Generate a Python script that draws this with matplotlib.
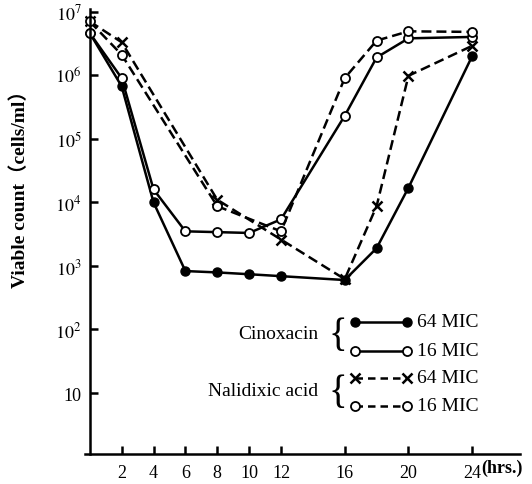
import numpy as np
import matplotlib.pyplot as plt
from matplotlib.ticker import FixedLocator, NullLocator

plt.rcParams['font.family'] = ['Liberation Serif', 'DejaVu Serif']
plt.rcParams['mathtext.fontset'] = 'stix'

# time points (hrs)
hours_cin = [0, 2, 4, 6, 8, 10, 12, 16, 18, 20, 24]
hours_nal = [0, 2, 8, 12, 16, 18, 20, 24]

# viable counts (cells/ml)
cin64 = [4.6e6, 6.7e5, 1.0e4, 8.3e2, 7.9e2, 7.4e2, 6.9e2, 6.0e2, 1.9e3, 1.7e4, 2.0e6]
cin16 = [4.6e6, 9.0e5, 1.6e4, 3.5e3, 3.4e3, 3.3e3, 5.4e3, 2.3e5, 1.9e6, 3.8e6, 4.0e6]
nal64 = [7.0e6, 3.3e6, 1.1e4, 2.6e3, 6.2e2, 8.7e3, 9.8e5, 2.9e6]
nal16 = [7.0e6, 2.1e6, 8.7e3, 3.5e3, 9.0e5, 3.5e6, 4.9e6, 4.8e6]

xticks = [2, 4, 6, 8, 10, 12, 16, 20, 24]
yticks = [10, 1e2, 1e3, 1e4, 1e5, 1e6, 1e7]
ytick_labels = ['10', '$10^2$', '$10^3$', '$10^4$', '$10^5$', '$10^6$', '$10^7$']

W, H = 532, 485
fig = plt.figure(figsize=(W / 100, H / 100), dpi=100)
ax = fig.add_axes([85 / W, 1 - 455 / H, 435 / W, 445 / H])

lw = 1.8
ms = 6.5
dash = (4, 2)

ax.plot(hours_cin, cin64, color='black', lw=lw, marker='o', ms=ms, mfc='black', mec='black')
ax.plot(hours_cin, cin16, color='black', lw=lw, marker='o', ms=ms, mfc='white', mec='black', mew=1.3)
ax.plot(hours_nal, nal64, color='black', lw=lw, ls=(0, dash), marker='x', ms=ms, mew=1.8)
ax.plot(hours_nal, nal16, color='black', lw=lw, ls=(0, dash), marker='o', ms=ms, mfc='white', mec='black', mew=1.3)

ax.set_yscale('log')
ax.set_xlim(-0.3, 27)
ax.set_ylim(1.1, 1.1e7)

ax.spines['top'].set_visible(False)
ax.spines['right'].set_visible(False)
ax.spines['left'].set_position(('data', 0))
ax.spines['left'].set_linewidth(1.8)
ax.spines['bottom'].set_linewidth(1.8)

ax.xaxis.set_major_locator(FixedLocator(xticks))
ax.set_xticklabels([str(t) for t in xticks])
ax.yaxis.set_major_locator(FixedLocator(yticks))
ax.yaxis.set_minor_locator(NullLocator())
ax.set_yticklabels(ytick_labels)
ax.tick_params(axis='both', direction='in', length=6, width=1.8, labelsize=13)
ax.tick_params(axis='x', pad=7)
ax.tick_params(axis='y', pad=6)

fig.text(20 / W, 1 - 185 / H, 'Viable count（cells/ml）', rotation=90, ha='center', va='center',
         fontsize=14, fontweight='bold', family=['Liberation Serif', 'Noto Sans CJK JP'])
fig.text(481 / W, 1 - 468 / H, '(hrs.)', ha='left', va='center', fontsize=13, fontweight='bold')

# legend drawn by hand
def fx(px):
    return px / W


def fy(py):
    return 1 - py / H


legend_rows = [
    (323, dict(ls='-', marker='o', mfc='black'), '64 MIC'),
    (352, dict(ls='-', marker='o', mfc='white', mew=1.3), '16 MIC'),
    (379, dict(ls=(0, (3, 2)), marker='x', mew=1.8), '64 MIC'),
    (407, dict(ls=(0, (3, 2)), marker='o', mfc='white', mew=1.3), '16 MIC'),
]
for py, style, label in legend_rows:
    fig.add_artist(plt.Line2D([fx(355), fx(407)], [fy(py), fy(py)], color='black', lw=lw,
                              ms=ms, mec='black', transform=fig.transFigure, **style))
    fig.text(fx(417), fy(py), label, ha='left', va='center', fontsize=14)

fig.text(fx(318), fy(335), 'Cinoxacin', ha='right', va='center', fontsize=14)
fig.text(fx(318), fy(392), 'Nalidixic acid', ha='right', va='center', fontsize=14)
fig.text(fx(338), fy(337), '{', ha='center', va='center', fontsize=28, fontweight='light')
fig.text(fx(338), fy(394), '{', ha='center', va='center', fontsize=28, fontweight='light')

fig.savefig('out.png', dpi=100)
